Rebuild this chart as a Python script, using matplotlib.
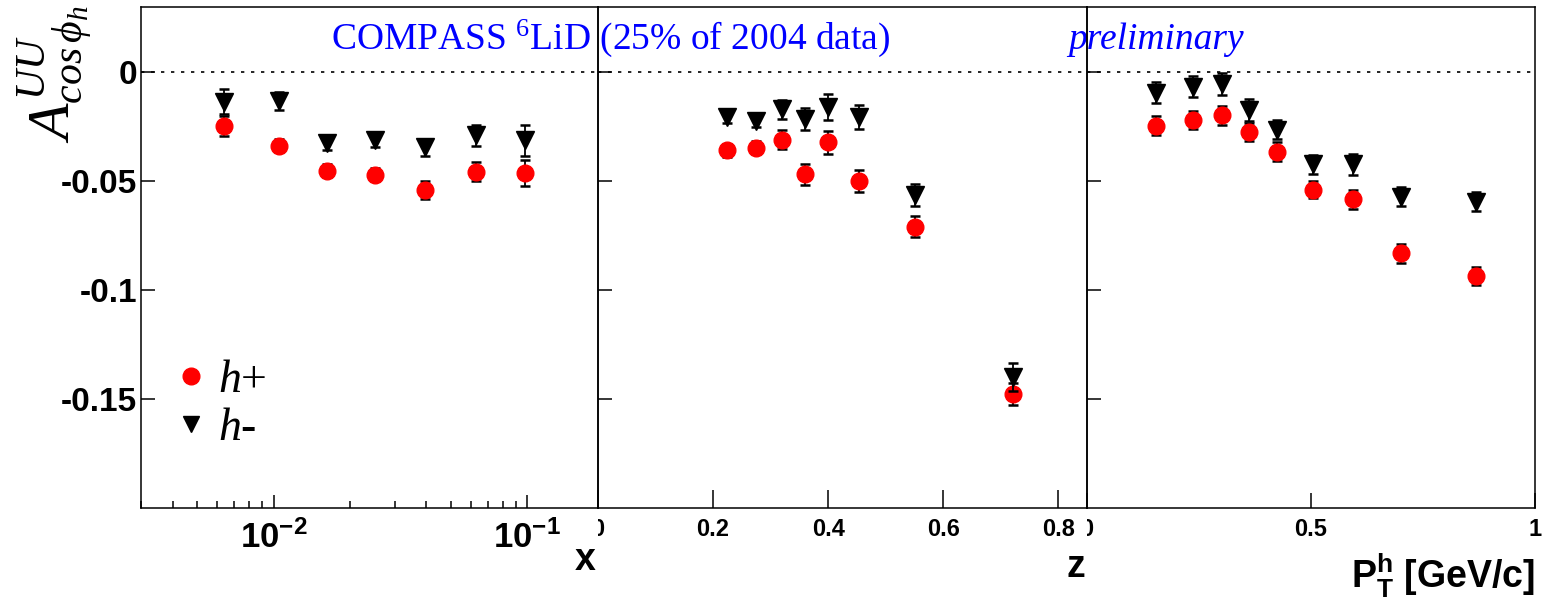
import numpy as np
import matplotlib
matplotlib.use('Agg')
import matplotlib.pyplot as plt
from matplotlib.ticker import FixedLocator, FuncFormatter, NullFormatter
from matplotlib.lines import Line2D
from matplotlib.transforms import Bbox, TransformedBbox

plt.rcParams['font.family'] = 'Liberation Sans'
plt.rcParams['mathtext.fontset'] = 'custom'
plt.rcParams['mathtext.rm'] = 'Liberation Sans:bold'
plt.rcParams['mathtext.bf'] = 'Liberation Sans:bold'
plt.rcParams['mathtext.sf'] = 'Liberation Serif'
plt.rcParams['mathtext.it'] = 'Liberation Serif:italic'

# x bins
x_bins = [0.00635, 0.0105, 0.0163, 0.0252, 0.0396, 0.0626, 0.0977]
x_hp = [-0.0246, -0.0337, -0.0451, -0.0470, -0.0540, -0.0456, -0.0462]
x_hp_err = [0.0046, 0.003, 0.003, 0.003, 0.0040, 0.0043, 0.006]
x_hm = [-0.0135, -0.0132, -0.0325, -0.0312, -0.0345, -0.0289, -0.0312]
x_hm_err = [0.0057, 0.004, 0.003, 0.003, 0.004, 0.0048, 0.007]

# z bins
z_bins = [0.225, 0.274, 0.320, 0.360, 0.399, 0.453, 0.551, 0.722]
z_hp = [-0.0357, -0.0347, -0.0309, -0.0468, -0.0322, -0.0500, -0.0708, -0.1477]
z_hp_err = [0.003, 0.003, 0.0044, 0.0048, 0.0053, 0.005, 0.0048, 0.0052]
z_hm = [-0.0204, -0.0223, -0.0169, -0.0214, -0.0160, -0.0205, -0.0562, -0.1400]
z_hm_err = [0.003, 0.003, 0.0044, 0.0052, 0.006, 0.0053, 0.0051, 0.0064]

# pT bins
pt_bins = [0.155, 0.236, 0.301, 0.361, 0.424, 0.504, 0.594, 0.700, 0.868]
pt_hp = [-0.0245, -0.0219, -0.0198, -0.0274, -0.0365, -0.0538, -0.0582, -0.0831, -0.0935]
pt_hp_err = [0.0044, 0.0042, 0.0043, 0.0043, 0.0043, 0.004, 0.0044, 0.0044, 0.0042]
pt_hm = [-0.0093, -0.0065, -0.0052, -0.0173, -0.0263, -0.0423, -0.0423, -0.0570, -0.0593]
pt_hm_err = [0.0047, 0.0047, 0.005, 0.005, 0.0044, 0.0043, 0.0047, 0.0043, 0.0043]

y_ticks = [0, -0.05, -0.1, -0.15]
z_ticks = [0, 0.2, 0.4, 0.6, 0.8]
pt_ticks = [0, 0.5, 1]

W, H = 1544, 599
fig = plt.figure(figsize=(W / 100, H / 100), dpi=100)

# panel edges in pixels
top, bottom = 7, 508
edges = [141, 598, 1087, 1535]
axes = []
for i in range(3):
    x0, x1 = edges[i], edges[i + 1]
    ax = fig.add_axes([x0 / W, (H - bottom) / H, (x1 - x0) / W, (bottom - top) / H])
    ax.set_facecolor('none')
    axes.append(ax)
ax1, ax2, ax3 = axes

datasets = [
    (ax1, x_bins, x_hp, x_hp_err, x_hm, x_hm_err),
    (ax2, z_bins, z_hp, z_hp_err, z_hm, z_hm_err),
    (ax3, pt_bins, pt_hp, pt_hp_err, pt_hm, pt_hm_err),
]
for ax, xb, hp, hpe, hm, hme in datasets:
    ax.axhline(0, color='black', lw=1.2, ls=(0, (2, 4)), zorder=1)
    ax.errorbar(xb, hp, yerr=hpe, fmt='o', color='red', ms=12, ecolor='black',
                elinewidth=1.3, capsize=3.5, capthick=1.8, zorder=3)
    ax.errorbar(xb, hm, yerr=hme, fmt='v', color='black', ms=12.5, ecolor='black',
                elinewidth=1.3, capsize=3.5, capthick=1.8, zorder=4)
    ax.set_ylim(-0.2, 0.03)
    ax.yaxis.set_major_locator(FixedLocator(y_ticks))
    ax.yaxis.set_minor_locator(FixedLocator([]))
    for s in ax.spines.values():
        s.set_linewidth(1.1)
    ax.tick_params(axis='both', which='both', direction='in', top=False, right=False,
                   width=1.1, colors='black')
    ax.tick_params(axis='y', length=10, pad=3, labelsize=24)

ax1.yaxis.set_major_formatter(FuncFormatter(lambda v, p: '%g' % v))
for lbl in ax1.get_yticklabels():
    lbl.set_fontweight('bold')
ax2.yaxis.set_major_formatter(NullFormatter())
ax3.yaxis.set_major_formatter(NullFormatter())

# left panel: log x
ax1.set_xscale('log')
ax1.set_xlim(0.003, 0.19)
ax1.xaxis.set_major_locator(FixedLocator([0.01, 0.1]))
ax1.xaxis.set_minor_locator(FixedLocator([m * 10.0 ** e for e in (-3, -2) for m in range(2, 10)]))
ax1.xaxis.set_major_formatter(FuncFormatter(lambda v, p: r'$\mathbf{10^{%d}}$' % round(np.log10(v))))
ax1.xaxis.set_minor_formatter(NullFormatter())
ax1.tick_params(axis='x', which='major', length=9.5, pad=9, labelsize=25)
ax1.tick_params(axis='x', which='minor', length=5)

# middle panel: z
ax2.set_xlim(0, 0.85)
ax2.xaxis.set_major_locator(FixedLocator(z_ticks))
ax2.xaxis.set_minor_locator(FixedLocator([]))
ax2.xaxis.set_major_formatter(FuncFormatter(lambda v, p: '%g' % v))
ax2.tick_params(axis='x', length=13, pad=7, labelsize=17)

# right panel: pT
ax3.set_xlim(0, 1)
ax3.xaxis.set_major_locator(FixedLocator(pt_ticks))
ax3.xaxis.set_minor_locator(FixedLocator([]))
ax3.xaxis.set_major_formatter(FuncFormatter(lambda v, p: '%g' % v))
ax3.tick_params(axis='x', length=11, pad=7, labelsize=17)

for ax in (ax2, ax3):
    for lbl in ax.get_xticklabels():
        lbl.set_fontweight('bold')

# axis titles
for ax, text, xc, yc in [(ax1, 'x', 0.9956, -0.124), (ax2, 'z', 0.996, -0.138),
                         (ax3, r'$\mathbf{P_T^h}$ [GeV/c]', 1.0, -0.158)]:
    ax.set_xlabel(text, fontsize=27, fontweight='bold')
    ax.xaxis.set_label_coords(xc, yc)
    ax.xaxis.label.set_ha('right')
    ax.xaxis.label.set_va('baseline')

fig.text(55 / W, 1 - 5 / H, r'$A^{UU}_{cos\,\phi_h}$', rotation=90, fontsize=43,
         ha='center', va='top')

fig.text(331 / W, 1 - 49 / H, r'COMPASS $^{\mathsf{6}}$LiD (25% of 2004 data)',
         family='Liberation Serif', fontsize=27, color='#0000ff', ha='left',
         va='baseline', zorder=-1)
fig.text(1068 / W, 1 - 49 / H, 'preliminary', family='Liberation Serif', style='italic',
         fontsize=27, color='#0000ff', ha='left', va='baseline', zorder=-1)

handles = [Line2D([], [], ls='none', marker='o', color='red', ms=12),
           Line2D([], [], ls='none', marker='v', color='black', ms=12)]
ax1.legend(handles, ['$h$+', '$h$-'], loc='center left', bbox_to_anchor=(0.079, 0.206),
           frameon=False, handlelength=0.6, handletextpad=0.3, labelspacing=0.12,
           borderpad=0, borderaxespad=0, numpoints=1,
           prop={'family': 'Liberation Serif', 'size': 33})

fig.canvas.draw()
# ROOT pads hide the left half of the "0" label on the shared edges
for ax, x0 in [(ax2, edges[1]), (ax3, edges[2])]:
    lbl = ax.xaxis.get_major_ticks()[0].label1
    lbl.set_clip_on(True)
    lbl.set_clip_box(TransformedBbox(Bbox([[x0 / W, 0], [1, 1]]), fig.transFigure))

fig.savefig('out.png', dpi=100)
